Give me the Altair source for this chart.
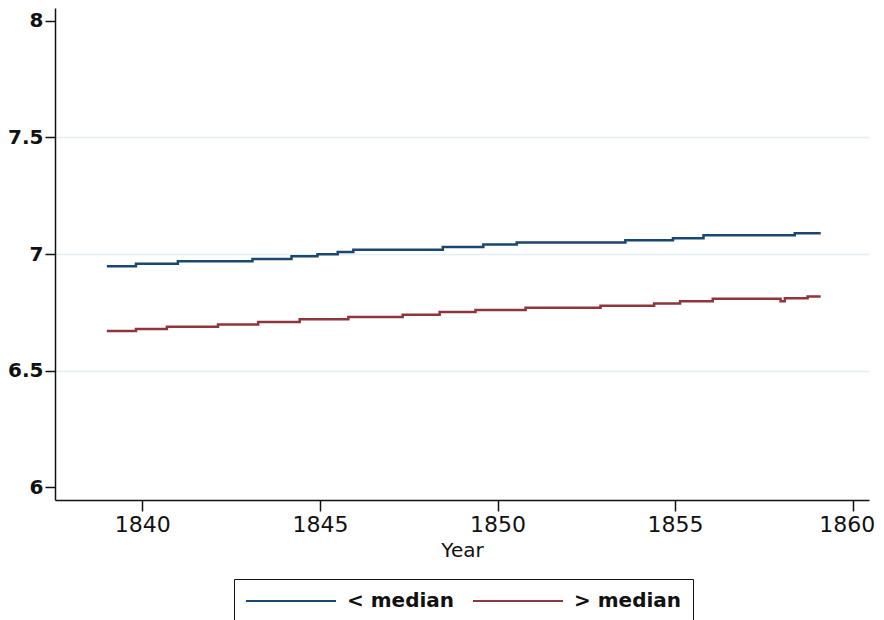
import altair as alt
import pandas as pd

# Step series
blue_years = [1839.0, 1839.82, 1841.0, 1843.1, 1844.2, 1844.93, 1845.5, 1845.94,
              1848.46, 1849.6, 1850.54, 1853.6, 1854.94, 1855.8, 1858.37, 1859.1]
blue_vals = [6.948, 6.958, 6.969, 6.979, 6.990, 6.999, 7.009, 7.018,
             7.030, 7.041, 7.049, 7.059, 7.067, 7.080, 7.089, 7.089]

red_years = [1839.0, 1839.82, 1840.69, 1842.13, 1843.26, 1844.43, 1845.8, 1847.33,
             1848.37, 1849.38, 1850.79, 1852.9, 1854.41, 1855.14, 1856.06, 1857.97,
             1858.09, 1858.73, 1859.1]
red_vals = [6.670, 6.679, 6.688, 6.698, 6.709, 6.720, 6.730, 6.740,
            6.751, 6.760, 6.770, 6.778, 6.788, 6.798, 6.808, 6.798,
            6.810, 6.818, 6.818]

series_names = ["< median", "> median"]
series_colors = ["#1a476f", "#90353b"]
x_ticks = [1840, 1845, 1850, 1855, 1860]
y_ticks = [6, 6.5, 7, 7.5, 8]

rows = []
for y, v in zip(blue_years, blue_vals):
    rows.append({"Year": y, "value": v, "group": series_names[0]})
for y, v in zip(red_years, red_vals):
    rows.append({"Year": y, "value": v, "group": series_names[1]})
df = pd.DataFrame(rows)

chart = alt.Chart(df).mark_line(interpolate="step-after", strokeWidth=2.5).encode(
    x=alt.X("Year:Q",
            scale=alt.Scale(domain=[1837.54, 1860.46], nice=False, zero=False),
            axis=alt.Axis(values=x_ticks, format="d", grid=False, title="Year",
                          labelFontSize=22, labelFont="DejaVu Sans", labelColor="#111",
                          labelFlush=20, labelFlushOffset=22,
                          titleFontSize=20, titleFont="DejaVu Sans", titleFontWeight="normal",
                          titleColor="#111", titlePadding=5,
                          tickSize=11, tickColor="#111", tickWidth=1.5,
                          domainColor="#111", domainWidth=1.5, labelPadding=3)),
    y=alt.Y("value:Q",
            scale=alt.Scale(domain=[5.9456, 8.0544], nice=False, zero=False),
            axis=alt.Axis(values=y_ticks, format="~g", title=None,
                          labelFontSize=20, labelFont="DejaVu Sans", labelFontWeight="bold",
                          labelColor="#111", labelPadding=2,
                          tickSize=10, tickColor="#111", tickWidth=1.5,
                          domainColor="#111", domainWidth=1.5,
                          grid=True, gridColor="#e4eef1", gridWidth=1.3,
                          gridOpacity=alt.condition("datum.value > 6.1 && datum.value < 7.9",
                                                    alt.value(1), alt.value(0)))),
    color=alt.Color("group:N",
                    scale=alt.Scale(domain=series_names, range=series_colors),
                    legend=alt.Legend(title=None, orient="none", legendX=179, legendY=571,
                                      direction="horizontal",
                                      symbolType="M-1,0H8", symbolSize=400,
                                      symbolStrokeWidth=2, labelOffset=80,
                                      labelFontSize=20, labelFont="DejaVu Sans",
                                      labelFontWeight="bold", labelColor="#111",
                                      columnPadding=14, padding=11,
                                      strokeColor="#111", fillColor="white")),
).properties(
    width=814, height=492,
    autosize=alt.AutoSizeParams(type="none"),
    padding={"left": 47, "top": 0, "right": 7, "bottom": 120},
).configure_view(stroke=None)

chart.save("out.html", embed_options={"renderer": "svg", "actions": False})
